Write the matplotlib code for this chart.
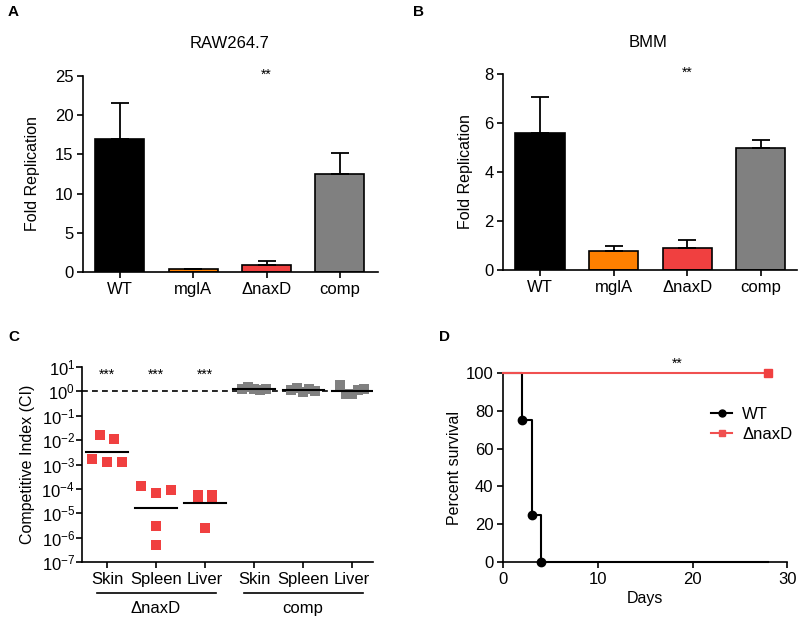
import matplotlib
matplotlib.use("Agg")
import matplotlib.pyplot as plt
import numpy as np

plt.rcParams['font.family'] = ['Liberation Sans', 'DejaVu Sans']
plt.rcParams['mathtext.fontset'] = 'custom'
plt.rcParams['mathtext.rm'] = 'Liberation Sans'
plt.rcParams['axes.linewidth'] = 1.2

# ---- data ----
bar_cats = ["WT", "mglA", "\u0394naxD", "comp"]
bar_colors = ["#000000", "#FF8000", "#F04040", "#808080"]
raw_vals = [17.0, 0.35, 0.9, 12.5]
raw_err = [4.6, 0.0, 0.5, 2.7]
bmm_vals = [5.6, 0.78, 0.88, 4.97]
bmm_err = [1.45, 0.19, 0.34, 0.33]

ci_cats = ["Skin", "Spleen", "Liver", "Skin", "Spleen", "Liver"]
ci_groups = ["\u0394naxD", "comp"]
ci_skin_naxd = [0.0158, 0.0107, 0.00166, 0.00123, 0.00131]
ci_spleen_naxd = [1.3e-4, 6.6e-5, 9.3e-5, 2.9e-6, 5.2e-7]
ci_liver_naxd = [5.6e-5, 5.6e-5, 3.8e-5, 3.8e-5, 2.5e-6]
ci_skin_comp = [1.2, 1.45, 1.3, 1.15, 1.25]
ci_spleen_comp = [1.1, 1.35, 0.95, 1.25, 1.05]
ci_liver_comp = [1.9, 0.8, 0.75, 1.1, 1.2]

wt_days = [0, 2, 3, 4, 28]
wt_surv = [100, 75, 25, 0, 0]
naxd_days = [0, 28]
naxd_surv = [100, 100]

FS = 12
LFS = 11.5

fig = plt.figure(figsize=(8, 6.17), dpi=100)

def style(ax):
    for s in ['top', 'right']:
        ax.spines[s].set_visible(False)
    ax.tick_params(direction='out', width=1.2, length=4, labelsize=FS, pad=3)

# ---- Panel A ----
axA = fig.add_axes([0.104, 0.5592, 0.3685, 0.3176])
x = np.arange(len(bar_cats))
axA.bar(x, raw_vals, width=0.67, color=bar_colors, edgecolor='black', linewidth=1.2,
        yerr=[np.zeros(4), raw_err], error_kw=dict(capsize=6.5, elinewidth=1.3, capthick=1.3, ecolor='black'))
axA.set_xlim(-0.5, 3.52)
axA.set_ylim(0, 25)
axA.set_yticks([0, 5, 10, 15, 20, 25])
axA.set_xticks(x)
axA.set_xticklabels(bar_cats)
style(axA)
axA.set_ylabel("Fold Replication", fontsize=LFS)
axA.yaxis.set_label_coords(-0.146, 0.5)
axA.text(0.495, 1.168, "RAW264.7", transform=axA.transAxes, ha='center', va='center', fontsize=FS)
axA.text(2, 25.2, "**", ha='center', va='center', fontsize=10)

# ---- Panel B ----
axB = fig.add_axes([0.629, 0.5624, 0.367, 0.318])
axB.bar(x, bmm_vals, width=0.67, color=bar_colors, edgecolor='black', linewidth=1.2,
        yerr=[np.zeros(4), bmm_err], error_kw=dict(capsize=6.5, elinewidth=1.3, capthick=1.3, ecolor='black'))
axB.set_xlim(-0.5, 3.49)
axB.set_ylim(0, 8)
axB.set_yticks([0, 2, 4, 6, 8])
axB.set_xticks(x)
axB.set_xticklabels(bar_cats)
style(axB)
axB.set_ylabel("Fold Replication", fontsize=LFS)
axB.yaxis.set_label_coords(-0.102, 0.5)
axB.text(0.493, 1.158, "BMM", transform=axB.transAxes, ha='center', va='center', fontsize=FS)
axB.text(2, 8.05, "**", ha='center', va='center', fontsize=10)

# ---- Panel C ----
axC = fig.add_axes([0.1025, 0.0891, 0.364, 0.316])
groups = [ci_skin_naxd, ci_spleen_naxd, ci_liver_naxd, ci_skin_comp, ci_spleen_comp, ci_liver_comp]
jit_skin = [-0.3, 0.3, -0.6, 0.0, 0.6]
jit_spleen = [-0.6, 0.0, 0.6, 0.0, 0.0]
jit_liver = [-0.3, 0.3, -0.3, 0.3, 0.0]
jit_comp = [-0.5, -0.25, 0.0, 0.25, 0.5]
jits = [jit_skin, jit_spleen, jit_liver, jit_comp, jit_comp, jit_comp]
for i, vals in enumerate(groups):
    col = '#F04040' if i < 3 else '#808080'
    xs = i + np.array(jits[i]) * 0.5
    axC.plot(xs, vals, 's', color=col, markersize=6.8, markeredgewidth=0, clip_on=False)
    gm = np.exp(np.mean(np.log(vals)))
    axC.plot([i - 0.42, i + 0.42], [gm, gm], color='black', lw=1.5, zorder=3)
axC.set_yscale('log')
axC.set_ylim(1e-7, 10)
axC.set_xlim(-0.51, 5.43)
axC.axhline(1, color='black', lw=1.2, ls=(0, (3.5, 2.5)), zorder=1)
axC.set_yticks([10.0 ** k for k in range(-7, 2)])
axC.set_yticklabels([r'$\mathregular{10^{%d}}$' % k for k in range(-7, 2)])
axC.yaxis.set_minor_locator(matplotlib.ticker.LogLocator(base=10, subs=np.arange(2, 10)))
axC.yaxis.set_minor_formatter(matplotlib.ticker.NullFormatter())
axC.set_xticks(np.arange(6))
axC.set_xticklabels(ci_cats)
style(axC)
axC.tick_params(axis='y', which='minor', length=2.5, width=1.0)
axC.tick_params(axis='y', which='major', pad=1)
axC.set_ylabel("Competitive Index (CI)", fontsize=LFS)
axC.yaxis.set_label_coords(-0.16, 0.5)
for i in range(3):
    axC.text(i, 5.0, "***", ha='center', va='center', fontsize=10)
tr = axC.get_xaxis_transform()
for g, (a, b) in enumerate([(0, 2), (3, 5)]):
    axC.plot([a - 0.2, b + 0.22], [-0.159, -0.159], color='black', lw=1.2, transform=tr, clip_on=False)
    axC.text((a + b) / 2, -0.236, ci_groups[g], transform=tr, ha='center', va='center', fontsize=FS)

# ---- Panel D ----
axD = fig.add_axes([0.629, 0.0891, 0.355, 0.3064])
axD.plot(wt_days, wt_surv, color='black', lw=1.5, drawstyle='steps-post', zorder=3, clip_on=False)
axD.plot(wt_days[1:4], wt_surv[1:4], 'o', color='black', markersize=6, zorder=4, clip_on=False)
axD.plot(naxd_days, naxd_surv, color='#F05050', lw=1.5, zorder=4, clip_on=False)
axD.plot(naxd_days[1:], naxd_surv[1:], 's', color='#F04040', markersize=6, zorder=5, clip_on=False)
axD.plot([], [], '-o', color='black', lw=1.5, markersize=5, label='WT')
axD.plot([], [], '-s', color='#F05050', lw=1.5, markersize=5, label='\u0394naxD')
axD.set_xlim(0, 30)
axD.set_ylim(0, 100)
axD.set_xticks([0, 10, 20, 30])
axD.set_yticks([0, 20, 40, 60, 80, 100])
style(axD)
axD.set_ylabel("Percent survival", fontsize=LFS)
axD.yaxis.set_label_coords(-0.144, 0.5)
axD.set_xlabel("Days", fontsize=LFS, labelpad=3)
axD.text(18.4, 105, "**", ha='center', va='center', fontsize=10)
h, l = axD.get_legend_handles_labels()
axD.legend(h[-2:], l[-2:], loc='upper left', bbox_to_anchor=(0.68, 0.9), frameon=False,
           fontsize=FS, handlelength=1.25, handletextpad=0.6, labelspacing=0.3)

# panel letters
for lbl, (fx, fy) in zip("ABCD", [(0.01, 0.98), (0.516, 0.98), (0.01, 0.454), (0.549, 0.454)]):
    fig.text(fx, fy, lbl, fontsize=11, fontweight='bold', ha='left', va='center')

fig.savefig("out.png", dpi=100)
